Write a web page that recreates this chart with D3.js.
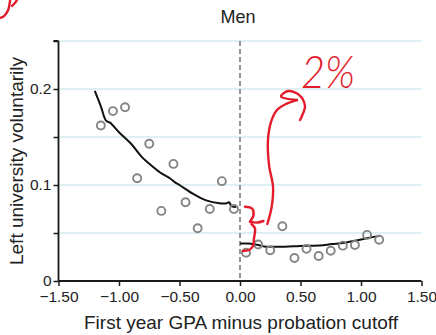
<!DOCTYPE html>
<html>
<head>
<meta charset="utf-8">
<script src="https://cdn.jsdelivr.net/npm/d3@7"></script>
<style>
  html, body { margin: 0; padding: 0; background: #fff; }
  svg { display: block; }
  text { font-family: "Liberation Sans", Arial, sans-serif; fill: #222; }
</style>
</head>
<body>
<svg id="chart" width="436" height="335"></svg>
<script>
// ---- data ----
const title = "Men";
const xLabel = "First year GPA minus probation cutoff";
const yLabel = "Left university voluntarily";
const xTicks = [-1.5, -1.0, -0.5, 0.0, 0.5, 1.0, 1.5];
const yTicks = [0, 0.05, 0.1, 0.15, 0.2, 0.25];
const yTickLabels = {0: "0", 0.1: "0.1", 0.2: "0.2"};

const binX = [-1.15, -1.05, -0.95, -0.85, -0.75, -0.65, -0.55, -0.45, -0.35, -0.25, -0.15, -0.05,
              0.05, 0.15, 0.25, 0.35, 0.45, 0.55, 0.65, 0.75, 0.85, 0.95, 1.05, 1.15];
const binY = [0.162, 0.177, 0.181, 0.107, 0.143, 0.073, 0.122, 0.082, 0.055, 0.075, 0.104, 0.075,
              0.0295, 0.038, 0.032, 0.057, 0.024, 0.0335, 0.026, 0.0315, 0.0368, 0.0375, 0.048, 0.043];

const fitLeftX = [-1.20, -1.15, -1.107, -1.074, -1.05, -1.00, -0.90, -0.81, -0.74, -0.66, -0.58, -0.54, -0.50, -0.39, -0.28, -0.17, -0.11, -0.09, -0.07, -0.03];
const fitLeftY = [0.198, 0.182, 0.167, 0.165, 0.162, 0.155, 0.143, 0.129, 0.121, 0.113, 0.107, 0.103, 0.100, 0.091, 0.084, 0.081, 0.081, 0.082, 0.078, 0.077];
const fitRightX = [0.00, 0.07, 0.15, 0.20, 0.37, 0.47, 0.54, 0.66, 0.76, 0.85, 0.99, 1.07, 1.16];
const fitRightY = [0.039, 0.039, 0.0375, 0.036, 0.0357, 0.0363, 0.0368, 0.037, 0.0385, 0.0395, 0.043, 0.045, 0.047];

// hand-drawn red annotation (data units)
const noteText = "2%";
const braceTop = [[0.041, 0.0774], [0.100, 0.0755], [0.112, 0.069], [0.083, 0.0618]];
const braceArm = [[0.083, 0.0618], [0.14, 0.0608], [0.194, 0.0625]];
const braceLow = [[0.095, 0.0594], [0.124, 0.0547], [0.116, 0.0448], [0.107, 0.0365], [0.074, 0.0323], [0.025, 0.0313]];
const arrowStem = [[0.2256, 0.0594], [0.262, 0.0774], [0.273, 0.0979], [0.240, 0.1208], [0.231, 0.1469], [0.256, 0.1656], [0.306, 0.1781], [0.380, 0.1844], [0.471, 0.1885]];
const arrowHook = [[0.471, 0.1885], [0.339, 0.1922], [0.397, 0.1979], [0.488, 0.1938], [0.537, 0.1823], [0.512, 0.1719], [0.496, 0.1677]];
const scribbleA = [[-1.983, 0.274], [-1.95, 0.276], [-1.917, 0.282], [-1.90, 0.2927]];
const scribbleB = [[-1.884, 0.2865], [-1.86, 0.2896], [-1.843, 0.2927]];
const notePos = [0.727, 0.201];

// ---- chart ----
const svg = d3.select("#chart");
const x = d3.scaleLinear().domain([-1.5, 1.5]).range([58.5, 421.5]);
const y = d3.scaleLinear().domain([0, 0.25]).range([281, 41]);

// gridlines
svg.append("g").selectAll("line").data(yTicks.filter(d => d > 0)).join("line")
  .attr("x1", x(-1.5)).attr("x2", x(1.5))
  .attr("y1", d => y(d)).attr("y2", d => y(d))
  .attr("stroke", "#dff0f5").attr("stroke-width", 1.8);

// cutoff dashed line
svg.append("line")
  .attr("x1", x(0)).attr("x2", x(0)).attr("y1", y(0.25)).attr("y2", y(0))
  .attr("stroke", "#7a7a7a").attr("stroke-width", 1.6).attr("stroke-dasharray", "5,3");

// axes
const yAxis = d3.axisLeft(y).tickValues(yTicks).tickSize(5).tickFormat(d => yTickLabels[d] || "");
const gy = svg.append("g").attr("transform", `translate(${x(-1.5)},0)`).call(yAxis);
const xAxis = d3.axisBottom(x).tickValues(xTicks).tickSize(5).tickFormat(d => d3.format(".2f")(d).replace("-", "\u2212"));
const gx = svg.append("g").attr("transform", `translate(0,${y(0)})`).call(xAxis);
[gx, gy].forEach(g => {
  g.select(".domain").attr("stroke", "#1a1a1a").attr("stroke-width", 1.8);
  g.selectAll(".tick line").attr("stroke", "#1a1a1a").attr("stroke-width", 1.5);
  g.selectAll(".tick text").attr("fill", "#222").style("font-size", "15.5px").style("font-family", "Liberation Sans, Arial, sans-serif");
});
gy.select(".domain").attr("d", `M0,${y(0.25)}H-5M0,${y(0.25)}V${y(0)}`);
gx.select(".domain").attr("d", `M${x(-1.5)},0H${x(1.5)}`);
gy.selectAll(".tick text").attr("x", -7).attr("dy", "0.3em");
gx.selectAll(".tick text").attr("y", 10);

// fit lines
const line = d3.line().x(d => x(d[0])).y(d => y(d[1])).curve(d3.curveCatmullRom);
svg.append("path").datum(fitLeftX.map((v, i) => [v, fitLeftY[i]]))
  .attr("d", line).attr("fill", "none").attr("stroke", "#111").attr("stroke-width", 2);
svg.append("path").datum(fitRightX.map((v, i) => [v, fitRightY[i]]))
  .attr("d", line).attr("fill", "none").attr("stroke", "#111").attr("stroke-width", 2);

// points
svg.append("g").selectAll("circle").data(binX.map((v, i) => [v, binY[i]])).join("circle")
  .attr("cx", d => x(d[0])).attr("cy", d => y(d[1])).attr("r", 4)
  .attr("fill", "none").attr("stroke", "#858585").attr("stroke-width", 1.9);

// titles
svg.append("text").attr("x", 238).attr("y", 23).attr("text-anchor", "middle")
  .style("font-size", "18px").text(title);
svg.append("text").attr("x", 241).attr("y", 329).attr("text-anchor", "middle")
  .style("font-size", "19px").text(xLabel);
svg.append("text").attr("transform", "translate(23,161) rotate(-90)").attr("text-anchor", "middle")
  .style("font-size", "19px").text(yLabel);

// red annotations
const red = "#e31b2b";
[braceTop, braceArm, braceLow, arrowStem, arrowHook, scribbleA, scribbleB].forEach(pts => {
  svg.append("path").datum(pts).attr("d", line).attr("fill", "none")
    .attr("stroke", red).attr("stroke-width", 2.4).attr("stroke-linecap", "round").attr("stroke-linejoin", "round");
});
svg.append("text").attr("x", x(notePos[0])).attr("y", y(notePos[1])).attr("text-anchor", "middle")
  .attr("textLength", 54).attr("lengthAdjust", "spacingAndGlyphs")
  .style("font-family", "Lato, 'DejaVu Sans', sans-serif").style("font-weight", 300).style("font-style", "italic")
  .style("font-size", "46px").style("fill", red).text(noteText);
</script>
</body>
</html>
